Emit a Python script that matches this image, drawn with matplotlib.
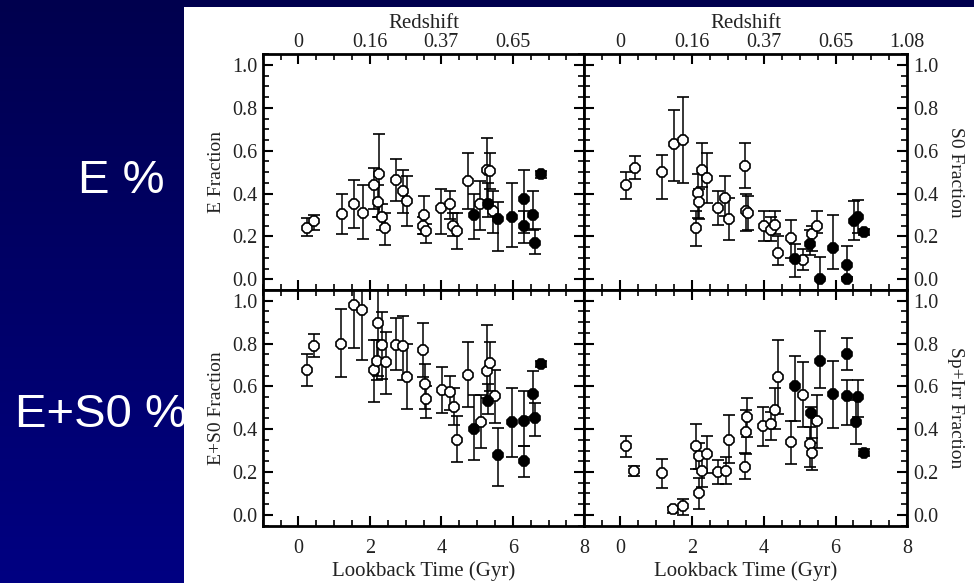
import numpy as np
import matplotlib
matplotlib.use('Agg')
from matplotlib import pyplot as plt
from matplotlib.patches import Rectangle
from matplotlib.ticker import MultipleLocator

# ---- data (lookback time in Gyr, fraction, lower / upper end of error bar) ----
# E fraction
e_open_t = [0.23, 0.44, 1.21, 1.55, 1.80, 2.11, 2.26, 2.23, 2.35, 2.43, 2.74, 2.93, 3.04,
            3.51, 3.49, 3.58, 4.00, 4.23, 4.33, 4.44, 4.74, 5.09, 5.28, 5.35, 5.44]
e_open_f = [0.24, 0.27, 0.305, 0.35, 0.31, 0.44, 0.49, 0.36, 0.29, 0.24, 0.465, 0.41, 0.365,
            0.30, 0.25, 0.225, 0.335, 0.35, 0.25, 0.225, 0.46, 0.35, 0.51, 0.505, 0.32]
e_open_lo = [0.20, 0.23, 0.21, 0.24, 0.19, 0.33, 0.29, 0.29, 0.23, 0.16, 0.365, 0.31, 0.25,
             0.21, 0.21, 0.17, 0.21, 0.28, 0.20, 0.14, 0.33, 0.23, 0.37, 0.42, 0.215]
e_open_hi = [0.285, 0.30, 0.40, 0.465, 0.44, 0.52, 0.68, 0.44, 0.35, 0.31, 0.56, 0.51, 0.48,
             0.39, 0.29, 0.26, 0.42, 0.41, 0.31, 0.31, 0.59, 0.46, 0.66, 0.59, 0.41]
e_fill_t = [4.90, 5.30, 5.58, 5.97, 6.30, 6.30, 6.56, 6.62, 6.79]
e_fill_f = [0.30, 0.35, 0.28, 0.29, 0.375, 0.25, 0.30, 0.17, 0.49]
e_fill_lo = [0.19, 0.29, 0.13, 0.15, 0.215, 0.17, 0.23, 0.12, 0.475]
e_fill_hi = [0.40, 0.45, 0.36, 0.45, 0.51, 0.32, 0.41, 0.235, 0.505]

# S0 fraction
s0_open_t = [0.17, 0.42, 1.17, 1.50, 1.75, 2.10, 2.18, 2.20, 2.27, 2.41, 2.73, 2.93,
             3.02, 3.48, 3.50, 3.55, 4.02, 4.21, 4.30, 4.41, 4.75, 5.10, 5.35, 5.47]
s0_open_f = [0.44, 0.52, 0.50, 0.63, 0.65, 0.24, 0.405, 0.36, 0.51, 0.475, 0.335, 0.38,
             0.28, 0.53, 0.32, 0.31, 0.25, 0.23, 0.255, 0.125, 0.195, 0.09, 0.21, 0.25]
s0_open_lo = [0.375, 0.47, 0.375, 0.46, 0.45, 0.155, 0.285, 0.28, 0.43, 0.355, 0.255, 0.295,
              0.185, 0.425, 0.225, 0.23, 0.18, 0.18, 0.21, 0.065, 0.10, 0.045, 0.13, 0.215]
s0_open_hi = [0.50, 0.575, 0.58, 0.79, 0.85, 0.32, 0.49, 0.42, 0.635, 0.59, 0.41, 0.48,
              0.38, 0.635, 0.40, 0.39, 0.32, 0.29, 0.32, 0.20, 0.275, 0.14, 0.25, 0.32]
s0_fill_t = [4.86, 5.30, 5.58, 5.92, 6.31, 6.31, 6.51, 6.64, 6.78]
s0_fill_f = [0.095, 0.165, 0.0, 0.145, 0.065, 0.0, 0.27, 0.29, 0.22]
s0_fill_lo = [0.01, 0.115, 0.0, 0.05, 0.01, 0.0, 0.185, 0.215, 0.205]
s0_fill_hi = [0.165, 0.23, 0.105, 0.30, 0.155, 0.0, 0.365, 0.37, 0.235]

# E+S0 fraction
es0_open_t = [0.23, 0.44, 1.19, 1.55, 1.79, 2.11, 2.23, 2.21, 2.34, 2.44, 2.74, 2.93, 3.05,
              3.49, 3.55, 3.58, 4.02, 4.23, 4.35, 4.44, 4.74, 5.12, 5.27, 5.37, 5.49]
es0_open_f = [0.675, 0.79, 0.80, 0.98, 0.955, 0.675, 0.895, 0.72, 0.795, 0.715, 0.795, 0.79, 0.645,
              0.77, 0.61, 0.54, 0.585, 0.575, 0.505, 0.35, 0.655, 0.435, 0.67, 0.71, 0.555]
es0_open_lo = [0.60, 0.735, 0.645, 0.78, 0.725, 0.525, 0.65, 0.63, 0.635, 0.565, 0.675, 0.63, 0.495,
               0.645, 0.495, 0.45, 0.475, 0.49, 0.42, 0.245, 0.505, 0.31, 0.545, 0.58, 0.43]
es0_open_hi = [0.75, 0.845, 0.96, 1.15, 1.15, 0.815, 1.15, 0.815, 0.945, 0.855, 0.92, 0.93, 0.80,
               0.895, 0.705, 0.60, 0.69, 0.65, 0.59, 0.46, 0.805, 0.56, 0.885, 0.805, 0.675]
es0_fill_t = [4.90, 5.30, 5.58, 5.97, 6.30, 6.30, 6.56, 6.62, 6.79]
es0_fill_f = [0.40, 0.53, 0.28, 0.435, 0.44, 0.25, 0.565, 0.45, 0.705]
es0_fill_lo = [0.255, 0.47, 0.135, 0.27, 0.32, 0.175, 0.455, 0.37, 0.69]
es0_fill_hi = [0.56, 0.61, 0.405, 0.59, 0.58, 0.32, 0.67, 0.52, 0.72]

# Sp+Irr fraction
sp_open_t = [0.17, 0.39, 1.17, 1.48, 1.75, 2.10, 2.20, 2.20, 2.29, 2.41, 2.73, 2.94, 3.02,
             3.48, 3.50, 3.53, 3.99, 4.21, 4.30, 4.41, 4.75, 5.10, 5.30, 5.35, 5.47]
sp_open_f = [0.32, 0.205, 0.195, 0.025, 0.04, 0.32, 0.275, 0.10, 0.205, 0.285, 0.20, 0.205, 0.35,
             0.225, 0.385, 0.455, 0.415, 0.425, 0.49, 0.645, 0.34, 0.56, 0.33, 0.29, 0.44]
sp_open_lo = [0.27, 0.18, 0.125, 0.01, 0.0, 0.215, 0.215, 0.025, 0.13, 0.195, 0.145, 0.145, 0.24,
              0.165, 0.285, 0.365, 0.32, 0.35, 0.40, 0.47, 0.235, 0.41, 0.225, 0.21, 0.31]
sp_open_hi = [0.37, 0.23, 0.26, 0.035, 0.075, 0.425, 0.335, 0.17, 0.28, 0.37, 0.255, 0.27, 0.465,
              0.29, 0.49, 0.545, 0.505, 0.48, 0.59, 0.815, 0.44, 0.715, 0.41, 0.36, 0.56]
sp_fill_t = [4.86, 5.33, 5.58, 5.92, 6.31, 6.31, 6.64, 6.57, 6.78]
sp_fill_f = [0.60, 0.475, 0.72, 0.565, 0.75, 0.555, 0.55, 0.435, 0.29]
sp_fill_lo = [0.44, 0.335, 0.59, 0.405, 0.675, 0.42, 0.455, 0.33, 0.275]
sp_fill_hi = [0.74, 0.505, 0.86, 0.72, 0.825, 0.63, 0.63, 0.535, 0.305]

redshift_labels = ['0', '0.16', '0.37', '0.65', '1.08']
lookback_ticks = [0, 2, 4, 6, 8]

plt.rcParams['font.family'] = ['Liberation Serif', 'DejaVu Serif']

W, H = 974, 583
fig = plt.figure(figsize=(W / 100, H / 100), dpi=100)

# slide background (dark blue gradient) and white plot area
bg = fig.add_axes([0, 0, 1, 1], zorder=-3)
grad = np.linspace(0, 1, 256).reshape(-1, 1)
bg.imshow(grad, aspect='auto', extent=[0, 1, 0, 1], origin='upper',
          cmap=matplotlib.colors.LinearSegmentedColormap.from_list('bg', ['#00004e', '#000082']))
bg.set_axis_off()
fig.add_artist(Rectangle((184 / W, 0), (W - 184) / W, (H - 7) / H, transform=fig.transFigure,
                         facecolor='white', edgecolor='none', zorder=-2))

fig.text(78 / W, 1 - 193 / H, 'E %', color='white', fontsize=34, va='baseline',
         family=['Liberation Sans', 'DejaVu Sans'])
fig.text(15 / W, 1 - 427 / H, 'E+S0 %', color='white', fontsize=34, va='baseline',
         family=['Liberation Sans', 'DejaVu Sans'])

x_left, x_mid, x_right = 262.7, 584.3, 907.3
y_top, y_mid, y_bot = 54.3, 290.0, 525.5


def rect(x0, x1, y0, y1):
    return [x0 / W, 1 - y1 / H, (x1 - x0) / W, (y1 - y0) / H]


ax_e = fig.add_axes(rect(x_left, x_mid, y_top, y_mid))
ax_s0 = fig.add_axes(rect(x_mid, x_right, y_top, y_mid))
ax_es0 = fig.add_axes(rect(x_left, x_mid, y_mid, y_bot))
ax_sp = fig.add_axes(rect(x_mid, x_right, y_mid, y_bot))


def draw(ax, t, f, lo, hi, filled):
    f = np.array(f)
    yerr = [f - np.array(lo), np.array(hi) - f]
    ax.errorbar(t, f, yerr=yerr, fmt='8', ms=7.5, mew=1.2, mec='black',
                mfc='black' if filled else 'white', ecolor='black',
                elinewidth=1.1, capsize=4, capthick=1.1, zorder=3)


draw(ax_e, e_open_t, e_open_f, e_open_lo, e_open_hi, False)
draw(ax_e, e_fill_t, e_fill_f, e_fill_lo, e_fill_hi, True)
draw(ax_s0, s0_open_t, s0_open_f, s0_open_lo, s0_open_hi, False)
draw(ax_s0, s0_fill_t, s0_fill_f, s0_fill_lo, s0_fill_hi, True)
draw(ax_es0, es0_open_t, es0_open_f, es0_open_lo, es0_open_hi, False)
draw(ax_es0, es0_fill_t, es0_fill_f, es0_fill_lo, es0_fill_hi, True)
draw(ax_sp, sp_open_t, sp_open_f, sp_open_lo, sp_open_hi, False)
draw(ax_sp, sp_fill_t, sp_fill_f, sp_fill_lo, sp_fill_hi, True)

for ax in [ax_e, ax_s0, ax_es0, ax_sp]:
    ax.set_xlim(-1, 8)
    ax.set_ylim(-0.05, 1.05)
    ax.set_xticks(lookback_ticks)
    ax.xaxis.set_minor_locator(MultipleLocator(0.5))
    ax.set_yticks([0, 0.2, 0.4, 0.6, 0.8, 1.0])
    ax.yaxis.set_minor_locator(MultipleLocator(0.05))
    ax.set_yticklabels(['0.0', '0.2', '0.4', '0.6', '0.8', '1.0'])
    ax.tick_params(which='both', direction='in', top=True, bottom=True, left=True, right=True,
                   labelsize=14.5, labelcolor='#222222')
    ax.tick_params(which='major', length=7, width=1.5)
    ax.tick_params(which='minor', length=4, width=1.2)
    ax.tick_params(axis='y', pad=4)
    for sp in ax.spines.values():
        sp.set_linewidth(2)

# top row: redshift on top axis
for ax, labels in [(ax_e, redshift_labels[:4] + ['']), (ax_s0, redshift_labels)]:
    ax.set_xticklabels(labels)
    ax.tick_params(axis='x', labeltop=True, labelbottom=False, pad=2)
    ax.xaxis.set_label_position('top')
    ax.set_xlabel('Redshift', fontsize=15, color='#222222', labelpad=3)

# bottom row: lookback time
for ax in [ax_es0, ax_sp]:
    ax.set_xticklabels([str(v) for v in lookback_ticks])
    ax.tick_params(axis='x', pad=10)
    ax.set_xlabel('Lookback Time (Gyr)', fontsize=15, color='#222222', labelpad=2)

# right column: labels on the right
for ax in [ax_s0, ax_sp]:
    ax.tick_params(axis='y', labelleft=False, labelright=True)
    ax.yaxis.set_label_position('right')

ax_e.set_ylabel('E Fraction', fontsize=14, color='#222222', labelpad=5)
ax_es0.set_ylabel('E+S0 Fraction', fontsize=14, color='#222222', labelpad=5)
ax_s0.set_ylabel('S0 Fraction', fontsize=14, color='#222222', rotation=270, labelpad=19)
ax_sp.set_ylabel('Sp+Irr Fraction', fontsize=14, color='#222222', rotation=270, labelpad=19)

fig.savefig('out.png', dpi=100, facecolor='#000060')
